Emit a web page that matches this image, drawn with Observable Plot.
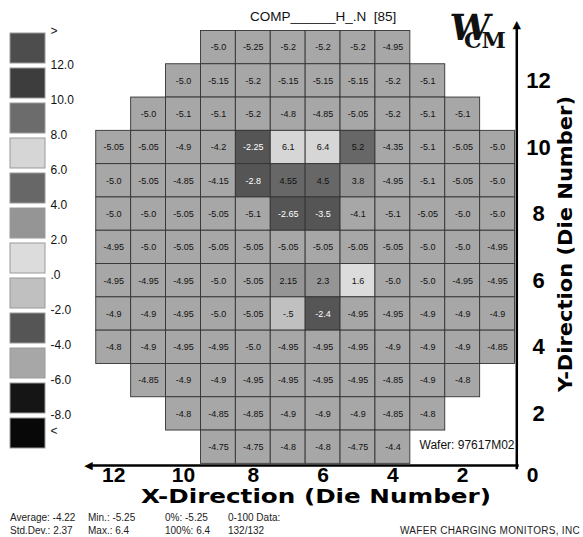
<!DOCTYPE html>
<html>
<head>
<meta charset="utf-8">
<script src="https://cdn.jsdelivr.net/npm/d3@7"></script>
<script src="https://cdn.jsdelivr.net/npm/@observablehq/plot@0.6"></script>
<style>
  body { margin: 0; background: #fff; }
  #wrap { position: relative; width: 583px; height: 537px; overflow: hidden; font-family: "Liberation Sans", Arial, sans-serif; color: #111; }
  #wrap svg { position: absolute; left: 0; top: 0; }
  .abs { position: absolute; white-space: pre; }
  .foot { font-size: 10px; color: #222; }
</style>
</head>
<body>
<div id="wrap"></div>
<script>
// ---------- data ----------
const title = "COMP______H_.N  [85]";
const waferLabel = "Wafer: 97617M02";
const xTitle = "X-Direction (Die Number)";
const yTitle = "Y-Direction (Die Number)";
const xTicks = [12, 10, 8, 6, 4, 2, 0];
const yTicks = [12, 10, 8, 6, 4, 2];

// rows from top (die Y = 13) to bottom (die Y = 1); values listed left to right (die X descending)
const rowY     = [13, 12, 11, 10, 9, 8, 7, 6, 5, 4, 3, 2, 1];
const rowStart = [ 9, 10, 11, 12, 12, 12, 12, 12, 12, 12, 11, 10, 9];
const row13 = [-5.0, -5.25, -5.2, -5.2, -5.2, -4.95];
const row12 = [-5.0, -5.15, -5.2, -5.15, -5.15, -5.15, -5.2, -5.1];
const row11 = [-5.0, -5.1, -5.1, -5.2, -4.8, -4.85, -5.05, -5.2, -5.1, -5.1];
const row10 = [-5.05, -5.05, -4.9, -4.2, -2.25, 6.1, 6.4, 5.2, -4.35, -5.1, -5.05, -5.0];
const row9  = [-5.0, -5.05, -4.85, -4.15, -2.8, 4.55, 4.5, 3.8, -4.95, -5.1, -5.05, -5.0];
const row8  = [-5.0, -5.0, -5.05, -5.05, -5.1, -2.65, -3.5, -4.1, -5.1, -5.05, -5.0, -5.0];
const row7  = [-4.95, -5.0, -5.05, -5.05, -5.05, -5.05, -5.05, -5.05, -5.05, -5.0, -5.0, -4.95];
const row6  = [-4.95, -4.95, -4.95, -5.0, -5.05, 2.15, 2.3, 1.6, -5.0, -5.0, -4.95, -4.95];
const row5  = [-4.9, -4.9, -4.95, -5.0, -5.05, -0.5, -2.4, -4.95, -4.95, -4.9, -4.9, -4.9];
const row4  = [-4.8, -4.9, -4.95, -4.95, -5.0, -4.95, -4.95, -4.95, -4.9, -4.9, -4.9, -4.85];
const row3  = [-4.85, -4.9, -4.9, -4.95, -4.95, -4.95, -4.95, -4.85, -4.9, -4.8];
const row2  = [-4.8, -4.85, -4.85, -4.9, -4.9, -4.9, -4.85, -4.8];
const row1  = [-4.75, -4.75, -4.8, -4.8, -4.75, -4.4];
const rowValues = [row13, row12, row11, row10, row9, row8, row7, row6, row5, row4, row3, row2, row1];

// legend bins: thresholds and colours (low -> high)
const legendBreaks = [-8, -6, -4, -2, 0, 2, 4, 6, 8, 10, 12];
const binColors = ["#080808", "#151515", "#a7a7a7", "#555555", "#c0c0c0", "#dcdcdc",
                   "#959595", "#676767", "#d6d6d6", "#6c6c6c", "#3d3d3d", "#4d4d4d"];
const legendLabels = ["12.0", "10.0", "8.0", "6.0", "4.0", "2.0", ".0", "-2.0", "-4.0", "-6.0", "-8.0"];

const statsLine1 = ["Average: -4.22", "Min.: -5.25", "0%: -5.25", "0-100 Data:"];
const statsLine2 = ["Std.Dev.: 2.37", "Max.: 6.4", "100%: 6.4", "132/132"];
const company = "WAFER CHARGING MONITORS, INC";

// ---------- build ----------
const cells = rowValues.flatMap((vals, r) => vals.map((v, j) => ({x: rowStart[r] - j, y: rowY[r], v})));
const fmt = v => {
  let s = String(v);
  if (!s.includes(".")) s += ".0";
  return s.replace(/^(-?)0\./, "$1.");
};
const whiteText = v => v >= -4 && v < -2;

const wrap = document.getElementById("wrap");
const AX = "'Liberation Sans', Arial, sans-serif";

const main = Plot.plot({
  width: 583, height: 537, margin: 0,
  x: {domain: [0, 12.5], range: [532, 95.75], axis: null},
  y: {domain: [0, 13.5], range: [480, 30.45], axis: null},
  color: {type: "threshold", domain: legendBreaks, range: binColors},
  style: {fontFamily: AX, background: "transparent", overflow: "visible"},
  marks: [
    Plot.rect(cells, {x1: d => d.x - 0.5, x2: d => d.x + 0.5, y1: d => d.y - 0.5, y2: d => d.y + 0.5,
      fill: "v", stroke: "#333", strokeWidth: 0.9}),
    Plot.text(cells, {filter: d => !whiteText(d.v), x: "x", y: "y", text: d => fmt(d.v), fill: "#111", fontSize: 9, letterSpacing: "-0.3px"}),
    Plot.text(cells, {filter: d => whiteText(d.v), x: "x", y: "y", text: d => fmt(d.v), fill: "#fff", fontSize: 9, letterSpacing: "-0.3px"}),
    // axis lines with arrow heads
    Plot.ruleX([0.45], {y1: 0.32, y2: 13.55, stroke: "#000", strokeWidth: 2.5}),
    Plot.ruleY([0.45], {x1: 0.38, x2: 12.6, stroke: "#000", strokeWidth: 2.5}),
    Plot.text(["▲"], {x: 0.45, y: 13.68, fontSize: 11, fill: "#000", fontFamily: "DejaVu Sans"}),
    Plot.text(["◀"], {x: 12.72, y: 0.45, fontSize: 11, fill: "#000", fontFamily: "DejaVu Sans"}),
    // tick labels
    Plot.text(xTicks, {x: d => d, y: 0, dy: -5, text: d => String(d), fontSize: 21, fontWeight: "bold", fill: "#000"}),
    Plot.text(yTicks, {x: 0, y: d => d, dx: 6, text: d => String(d), fontSize: 22, fontWeight: "bold", fill: "#000"}),
    // axis titles
    Plot.text([xTitle], {frameAnchor: "bottom", textAnchor: "middle", dx: 24, dy: -35, fontSize: 19, fontWeight: "bold", fill: "#000", fontFamily: "DejaVu Sans"}),
    Plot.text([yTitle], {frameAnchor: "right", textAnchor: "middle", dx: -18, dy: -25, rotate: -90, fontSize: 19, fontWeight: "bold", fill: "#000", fontFamily: "DejaVu Sans"}),
    // wafer label
    Plot.text([waferLabel], {frameAnchor: "bottom-right", dx: -69, dy: -89, textAnchor: "end", fontSize: 12, fill: "#111"})
  ]
});
// stretch the axis titles to the reference's width
d3.select(main).selectAll("text").each(function () {
  const t = this.textContent;
  if (t === xTitle) d3.select(this).attr("textLength", 350).attr("lengthAdjust", "spacingAndGlyphs");
  if (t === yTitle) d3.select(this).attr("textLength", 296).attr("lengthAdjust", "spacingAndGlyphs");
});
wrap.appendChild(main);

// legend
const legendIdx = d3.range(binColors.length);
const legendColors = binColors.slice().reverse();
const legend = Plot.plot({
  width: 90, height: 470, margin: 0,
  x: {domain: [0, 1], range: [10, 45], axis: null},
  y: {type: "band", domain: legendIdx, range: [33, 448], paddingInner: 0.143, paddingOuter: 0, axis: null},
  style: {fontFamily: AX, background: "transparent", overflow: "visible"},
  marks: [
    Plot.barX(legendIdx, {x1: 0, x2: 1, y: d => d, fill: d => legendColors[d], stroke: "#9a9a9a", strokeWidth: 1}),
    Plot.text(legendLabels, {x: 1, y: (d, i) => i, dx: 5, dy: 17, text: d => d, textAnchor: "start", fontSize: 12, fill: "#111"}),
    Plot.text([">"], {x: 1, y: 0, dx: 5, dy: -17, textAnchor: "start", fontSize: 12, fill: "#111"}),
    Plot.text(["<"], {x: 1, y: 11, dx: 5, dy: -2, textAnchor: "start", fontSize: 12, fill: "#111"})
  ]
});
wrap.appendChild(legend);

// title, logo, footer (HTML text)
function addText(txt, css, cls) {
  const d = document.createElement("div");
  d.className = "abs" + (cls ? " " + cls : "");
  d.textContent = txt;
  Object.assign(d.style, css);
  wrap.appendChild(d);
  return d;
}
addText(title, {left: "250px", top: "9px", fontSize: "13.5px", color: "#111"});
// logo
addText("W", {left: "450px", top: "6px", fontSize: "36px", fontFamily: "'DejaVu Serif', serif", fontWeight: "bold", color: "#111", transform: "skewX(-8deg)"});
addText("CM", {left: "464px", top: "27px", fontSize: "22px", fontFamily: "'DejaVu Serif', serif", fontWeight: "bold", color: "#111"});

const colX = [10, 88, 165, 228];
statsLine1.forEach((t, i) => addText(t, {left: colX[i] + "px", top: "512px"}, "foot"));
statsLine2.forEach((t, i) => addText(t, {left: colX[i] + "px", top: "525px"}, "foot"));
addText(company, {right: "3px", top: "525px", letterSpacing: "0.3px"}, "foot");
</script>
</body>
</html>
